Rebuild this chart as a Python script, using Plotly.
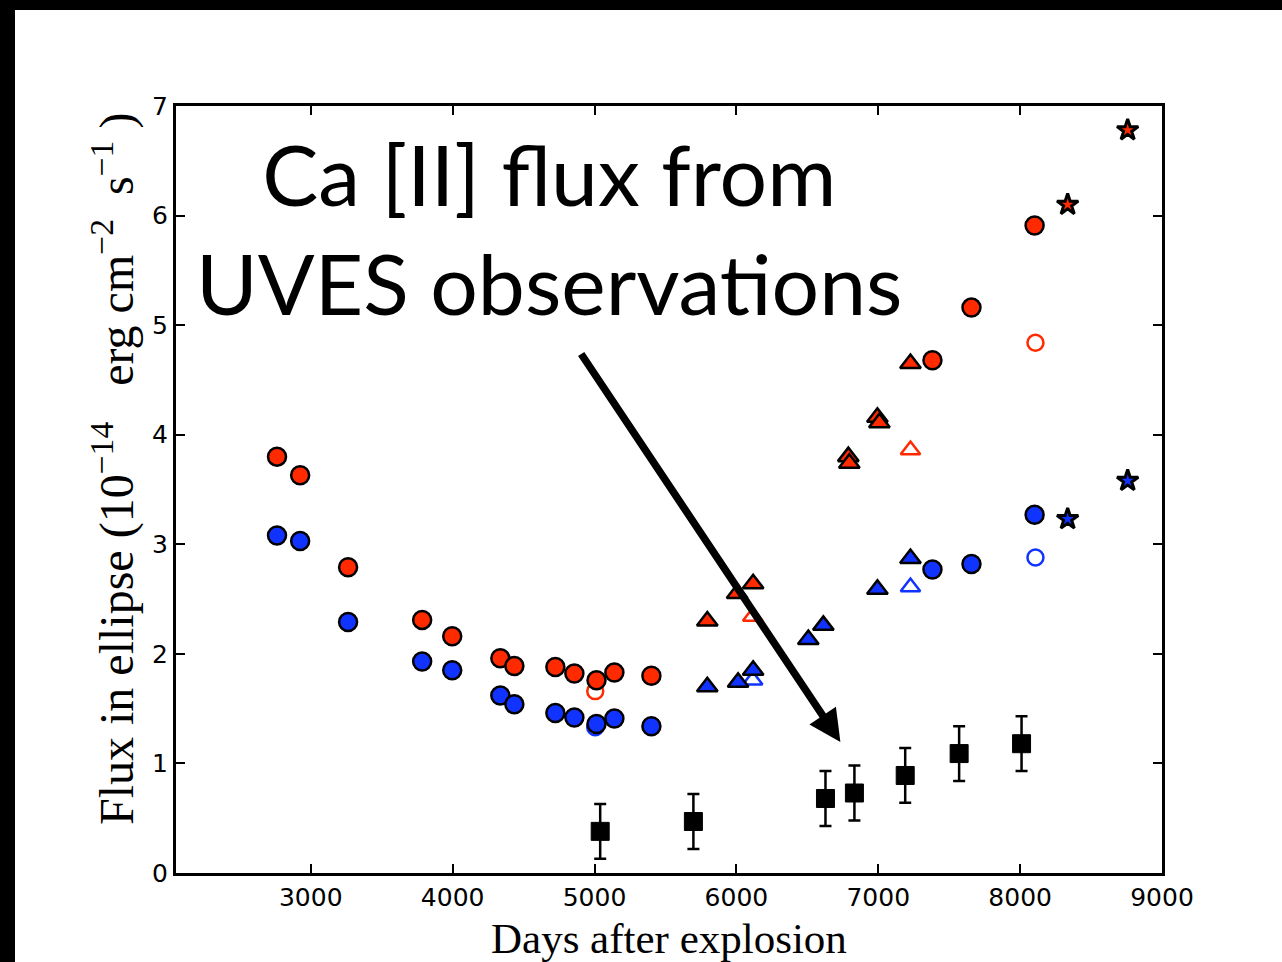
import plotly.graph_objects as go

RED = "#ff2a00"
BLUE = "#1133ff"

# Filled circles
circ_days = [2762, 2925, 3263, 3785, 3997, 4336, 4435, 4724, 4858, 5014, 5140, 5401, 7382, 7657, 8102]
circ_red = [3.80, 3.63, 2.79, 2.31, 2.16, 1.96, 1.89, 1.88, 1.82, 1.76, 1.83, 1.80, 4.68, 5.16, 5.91]
circ_blue = [3.08, 3.03, 2.29, 1.93, 1.85, 1.62, 1.54, 1.46, 1.42, 1.36, 1.41, 1.34, 2.77, 2.82, 3.27]

# Open circles
ocirc_days = [5005, 8108]
ocirc_red = [1.66, 4.84]
ocirc_blue = [1.33, 2.88]

# Filled triangles
tri_red_days = [5795, 6005, 6118, 6789, 6796, 6994, 7008, 7227]
tri_red = [2.30, 2.55, 2.64, 3.80, 3.74, 4.16, 4.11, 4.65]
tri_blue_days = [5795, 6012, 6118, 6507, 6613, 6994, 7227]
tri_blue = [1.70, 1.74, 1.85, 2.13, 2.26, 2.59, 2.87]

# Open triangles
otri_days = [6115, 7227]
otri_red = [2.34, 3.86]
otri_blue = [1.76, 2.61]

# Stars
star_days = [8335, 8758]
star_red = [6.10, 6.78]
star_blue = [3.23, 3.58]

# Black squares with error bars
sq_days = [5040, 5697, 6628, 6832, 7190, 7570, 8010]
sq_flux = [0.38, 0.47, 0.68, 0.73, 0.89, 1.09, 1.18]
sq_err = [0.25, 0.25, 0.25, 0.25, 0.25, 0.25, 0.25]

x_ticks = [3000, 4000, 5000, 6000, 7000, 8000, 9000]
y_ticks = [0, 1, 2, 3, 4, 5, 6, 7]

fig = go.Figure()

def add(x, y, symbol, color, size, lw=2.5, lc="black", open_=False):
    if open_:
        marker = dict(symbol=symbol, size=size, color=color, line=dict(width=lw, color=color))
    else:
        marker = dict(symbol=symbol, size=size, color=color, line=dict(width=lw, color=lc))
    fig.add_trace(go.Scatter(x=x, y=y, mode="markers", marker=marker, showlegend=False,
                             cliponaxis=False))

# open markers first (underneath)
add(ocirc_days, ocirc_red, "circle-open", RED, 16, 2.5, open_=True)
add(ocirc_days, ocirc_blue, "circle-open", BLUE, 16, 2.5, open_=True)
add(otri_days, otri_red, "triangle-up-open", RED, 17, 2.5, open_=True)
add(otri_days, otri_blue, "triangle-up-open", BLUE, 17, 2.5, open_=True)

add(circ_days, circ_red, "circle", RED, 18)
add(circ_days, circ_blue, "circle", BLUE, 18)
add(tri_red_days, tri_red, "triangle-up", RED, 18)
add(tri_blue_days, tri_blue, "triangle-up", BLUE, 18)
add(star_days, star_red, "star", RED, 16, 3)
add(star_days, star_blue, "star", BLUE, 16, 3)

fig.add_trace(go.Scatter(
    x=sq_days, y=sq_flux, mode="markers",
    marker=dict(symbol="square", size=18, color="black", line=dict(width=1, color="black")),
    error_y=dict(type="data", array=sq_err, visible=True, color="black", thickness=2.5, width=6),
    showlegend=False))

axis_common = dict(
    showline=True, linewidth=3, linecolor="black", mirror="ticks",
    ticks="inside", ticklen=9, tickwidth=2, tickcolor="black",
    showgrid=False, zeroline=False,
    tickfont=dict(family="DejaVu Sans", size=25, color="black"),
)

fig.update_xaxes(range=[2050, 9000], tickvals=x_ticks, ticktext=[str(v) for v in x_ticks], **axis_common)
fig.update_yaxes(range=[0, 7], tickvals=y_ticks, ticktext=[str(v) for v in y_ticks], **axis_common)

L, R, T, B = 176, 120, 106, 89
W, H = 1282, 962
pw, ph = W - L - R, H - T - B

def px(xp):
    return (xp - L) / pw

def py(yp):
    return (H - B - yp) / ph

shapes = [
    dict(type="rect", xref="paper", yref="paper", x0=px(-5), x1=px(W + 5), y0=py(10), y1=py(-5),
         fillcolor="black", line=dict(width=0), layer="above"),
    dict(type="rect", xref="paper", yref="paper", x0=px(-5), x1=px(15), y0=py(H + 5), y1=py(-5),
         fillcolor="black", line=dict(width=0), layer="above"),
]

annotations = [
    dict(text="Ca [II] flux from<br>UVES observations", xref="paper", yref="paper",
         x=px(549), y=py(228), xanchor="center", yanchor="middle", showarrow=False,
         font=dict(family="Comic Sans MS, Lato, sans-serif", size=84, color="black")),
    dict(x=6733, y=1.195, ax=4899, ay=4.75, xref="x", yref="y", axref="x", ayref="y",
         text="", showarrow=True, arrowhead=2, arrowsize=0.85, arrowwidth=7.5, arrowcolor="black"),
    dict(text="Days after explosion", xref="paper", yref="paper", x=px(669), y=py(938),
         xanchor="center", yanchor="middle", showarrow=False, borderpad=0,
         font=dict(family="Liberation Serif, serif", size=43, color="black")),
    dict(text="Flux in ellipse (10<sup>−14</sup>   erg cm<sup>−2</sup>  s<sup>−1</sup> )",
         xref="paper", yref="paper", x=px(113), y=py(469), textangle=-90,
         xanchor="center", yanchor="middle", showarrow=False,
         font=dict(family="Liberation Serif, serif", size=48, color="black")),
]

fig.update_layout(
    width=W, height=H, margin=dict(l=L, r=R, t=T, b=B),
    paper_bgcolor="white", plot_bgcolor="white",
    shapes=shapes, annotations=annotations,
)

fig.write_html("out.html")
